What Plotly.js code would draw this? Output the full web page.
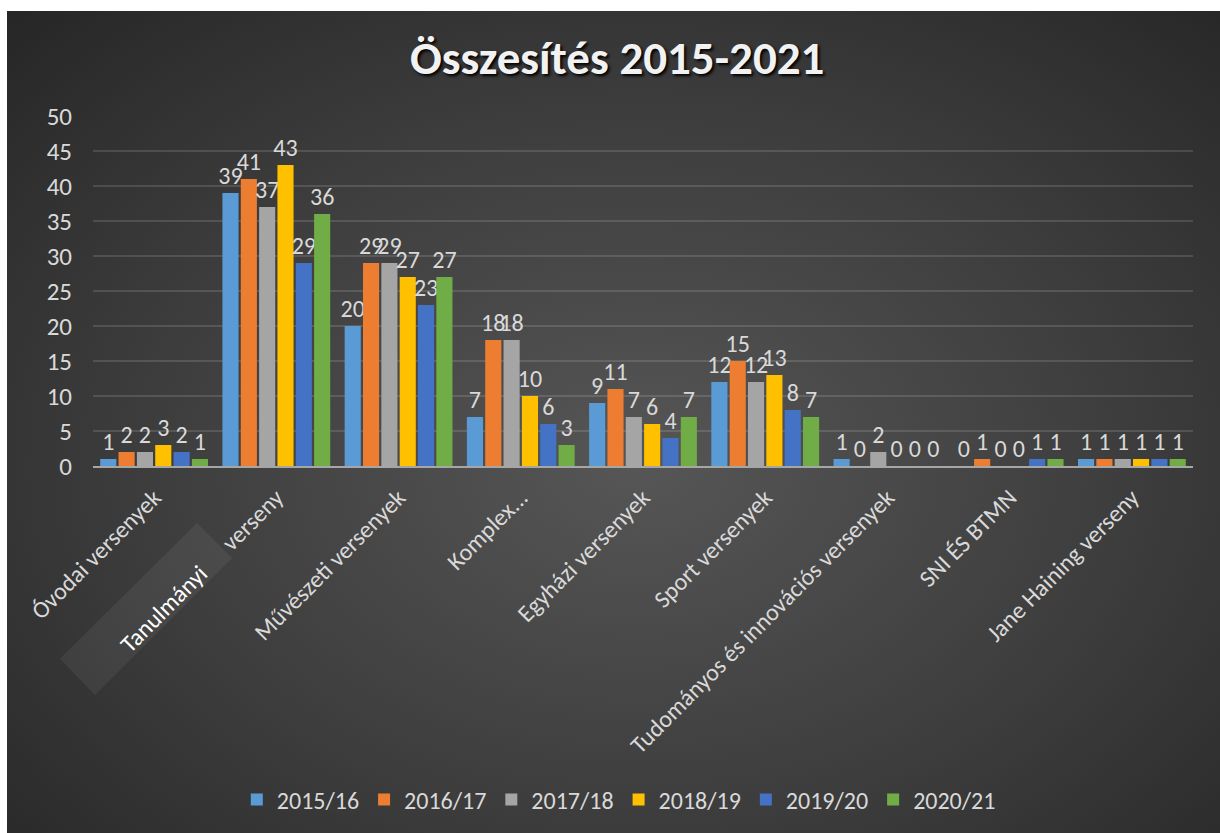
<!DOCTYPE html>
<html>
<head>
<meta charset="utf-8">
<script src="https://cdn.plot.ly/plotly-3.0.1.min.js"></script>
<style>
html, body { margin:0; padding:0; background:#ffffff; }
#chart {
  position:absolute; left:7px; top:11px; width:1213px; height:822px;
  background: radial-gradient(ellipse farthest-corner at 52% 55%, #565656 0%, #3d3d3d 55%, #262626 100%);
}
</style>
</head>
<body>
<div id="chart"></div>
<script>
const categories = [
  "Óvodai versenyek",
  "Tanulmányi verseny",
  "Művészeti versenyek",
  "Komplex...",
  "Egyházi versenyek",
  "Sport versenyek",
  "Tudományos és innovációs versenyek",
  "SNI ÉS BTMN",
  "Jane Haining verseny"
];
const tickLabels = [
  "Óvodai versenyek",
  "<span style='color:#ffffff'>Tanulmányi</span>\u00a0\u00a0\u00a0\u00a0\u00a0\u00a0verseny",
  "Művészeti versenyek",
  "Komplex...",
  "Egyházi versenyek",
  "Sport versenyek",
  "Tudományos és innovációs versenyek",
  "SNI ÉS BTMN",
  "Jane Haining verseny"
];
const seriesNames = ["2015/16", "2016/17", "2017/18", "2018/19", "2019/20", "2020/21"];
const s2015 = [1, 39, 20, 7, 9, 12, 1, 0, 1];
const s2016 = [2, 41, 29, 18, 11, 15, 0, 1, 1];
const s2017 = [2, 37, 29, 18, 7, 12, 2, 0, 1];
const s2018 = [3, 43, 27, 10, 6, 13, 0, 0, 1];
const s2019 = [2, 29, 23, 6, 4, 8, 0, 1, 1];
const s2020 = [1, 36, 27, 3, 7, 7, 0, 1, 1];
const seriesValues = [s2015, s2016, s2017, s2018, s2019, s2020];
const seriesColors = ["#5b9bd5", "#ed7d31", "#a5a5a5", "#ffc000", "#4472c4", "#70ad47"];

const FONT = "Carlito, Lato, 'Open Sans', sans-serif";
const TXT = "#d9d9d9";

const traces = seriesNames.map((name, i) => ({
  type: "bar",
  name: name,
  x: categories,
  y: seriesValues[i],
  marker: { color: seriesColors[i] },
  text: seriesValues[i].map(String),
  textposition: "outside",
  constraintext: "none",
  cliponaxis: false,
  textfont: { family: FONT, size: 24, color: TXT },
  hoverinfo: "x+y+name"
}));

const layout = {
  width: 1213,
  height: 822,
  paper_bgcolor: "rgba(0,0,0,0)",
  plot_bgcolor: "rgba(0,0,0,0)",
  margin: { l: 86, r: 27, t: 105, b: 367, autoexpand: false },
  title: {
    text: "Összesítés 2015-2021",
    x: 0.503, xanchor: "center",
    y: 0.943, yanchor: "middle",
    font: { family: FONT, size: 47, weight: 700, color: "#f2f2f2", shadow: "2px 2px 3px #000000" }
  },
  barmode: "group",
  bargap: 0.1,
  bargroupgap: 0.12,
  showlegend: true,
  legend: {
    orientation: "h",
    x: 0.478, xanchor: "center",
    y: -0.954, yanchor: "middle",
    font: { family: FONT, size: 24, color: TXT },
    bgcolor: "rgba(0,0,0,0)",
    traceorder: "normal"
  },
  xaxis: {
    type: "category",
    tickvals: categories,
    ticktext: tickLabels,
    tickangle: -45,
    tickfont: { family: FONT, size: 24, color: TXT },
    showline: true,
    linecolor: "#a6a6a6",
    linewidth: 2,
    ticks: "",
    showgrid: false,
    automargin: false,
    ticklabelstandoff: 6
  },
  yaxis: {
    range: [0, 50],
    dtick: 5,
    tick0: 0,
    tickfont: { family: FONT, size: 25, color: TXT },
    gridcolor: "rgba(255,255,255,0.13)",
    gridwidth: 1.5,
    zeroline: false,
    showline: false,
    ticks: "",
    automargin: false,
    ticklabelstandoff: 20
  },
  shapes: [{
    type: "path",
    xref: "paper", yref: "paper",
    path: "M -0.030 -0.551 L 0.0018 -0.654 L 0.1264 -0.263 L 0.0945 -0.163 Z",
    fillcolor: "rgba(255,255,255,0.06)",
    line: { width: 0 },
    layer: "below"
  }]
};

Plotly.newPlot("chart", traces, layout, { displayModeBar: false, staticPlot: true });
</script>
</body>
</html>
